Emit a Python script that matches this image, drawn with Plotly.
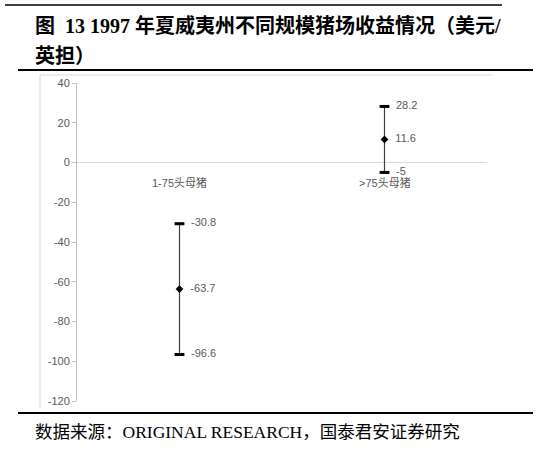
import plotly.graph_objects as go

# 1997 Hawaii hog farm returns by size (USD / cwt)
categories = ["1-75头母猪", ">75头母猪"]
mid_vals = [-63.7, 11.6]
high_vals = [-30.8, 28.2]
low_vals = [-96.6, -5]
high_text = ["-30.8", "28.2"]
mid_text = ["-63.7", "11.6"]
low_text = ["-96.6", "-5"]
y_ticks = [40, 20, 0, -20, -40, -60, -80, -100, -120]
y_ticktext = ["40", "20", "0", "-20", "-40", "-60", "-80", "-100", "-120"]

W, H = 541, 452
L, R, T, B = 77, 54, 83, 51
PW, PH = W - L - R, H - T - B

def px(x):   # pixel -> paper x
    return (x - L) / PW

def py(y):   # pixel -> paper y
    return (H - B - y) / PH

grey = "#595959"
tick_font = dict(family="Liberation Sans, Noto Sans CJK SC", size=11, color=grey)
serif = "Liberation Serif, Noto Sans CJK SC"

fig = go.Figure()

# vertical line through high/low with the diamond at the middle value
fig.add_trace(go.Scatter(
    x=categories, y=mid_vals, mode="markers+text",
    marker=dict(symbol="diamond", size=6, color="black"),
    error_y=dict(type="data", symmetric=False,
                 array=[h - m for h, m in zip(high_vals, mid_vals)],
                 arrayminus=[m - lo for m, lo in zip(mid_vals, low_vals)],
                 width=0, thickness=1.2, color="#404040"),
    text=["  " + t for t in mid_text], textposition="middle right", textfont=tick_font,
    cliponaxis=False, showlegend=False))

# caps
for vals, txt in [(high_vals, high_text), (low_vals, low_text)]:
    fig.add_trace(go.Scatter(
        x=categories, y=vals, mode="markers+text",
        marker=dict(symbol="line-ew", size=7, line=dict(width=3, color="black")),
        text=["  " + t for t in txt], textposition="middle right", textfont=tick_font,
        cliponaxis=False, showlegend=False))

# category labels sit just under the zero line
for c in categories:
    fig.add_annotation(x=c, y=0, yref="y", text=c, showarrow=False,
                       yanchor="top", yshift=-12, font=tick_font)

fig.update_xaxes(type="category", range=[-0.5, 1.5], showticklabels=False,
                 showline=False, showgrid=False, zeroline=False)
fig.update_yaxes(range=[-120, 40], tickvals=y_ticks, ticktext=y_ticktext, showgrid=False,
                 showline=True, linecolor="#bfbfbf", linewidth=1,
                 ticks="outside", ticklen=4, tickcolor="#bfbfbf",
                 tickfont=tick_font, zeroline=True, zerolinecolor="#d9d9d9",
                 zerolinewidth=1)

shapes = [
    # top rule
    dict(type="line", x0=px(5), x1=px(502), y0=py(5), y1=py(5), line=dict(color="black", width=1.5)),
    # rule under title
    dict(type="line", x0=px(18), x1=px(533), y0=py(70), y1=py(70), line=dict(color="black", width=2)),
    # chart frame
    dict(type="line", x0=px(40), x1=px(492), y0=py(75), y1=py(75), line=dict(color="#d9d9d9", width=1)),
    dict(type="line", x0=px(40), x1=px(40), y0=py(75), y1=py(409), line=dict(color="#d9d9d9", width=1)),
    # rule above source
    dict(type="line", x0=px(18), x1=px(533), y0=py(413), y1=py(413), line=dict(color="black", width=2)),
]
for s in shapes:
    s.update(xref="paper", yref="paper")
    fig.add_shape(**s)

fig.add_annotation(xref="paper", yref="paper", x=px(33), y=py(26), xanchor="left", yanchor="middle",
                   text="<b>图  13 1997 年夏威夷州不同规模猪场收益情况（美元/</b>", showarrow=False,
                   font=dict(family=serif, size=20, color="black"))
fig.add_annotation(xref="paper", yref="paper", x=px(33), y=py(56), xanchor="left", yanchor="middle",
                   text="<b>英担）</b>", showarrow=False,
                   font=dict(family=serif, size=20, color="black"))
fig.add_annotation(xref="paper", yref="paper", x=px(33), y=py(432), xanchor="left", yanchor="middle",
                   text="数据来源：ORIGINAL RESEARCH，国泰君安证券研究", showarrow=False,
                   font=dict(family=serif, size=17.5, color="black"))

fig.update_layout(width=W, height=H, margin=dict(l=L, r=R, t=T, b=B),
                  paper_bgcolor="white", plot_bgcolor="white")

# page body has a default 8px margin; drop it so the figure sits at the top-left corner
fig.write_html("out.html", config={"displayModeBar": False},
               post_script="document.body.style.margin='0';")
